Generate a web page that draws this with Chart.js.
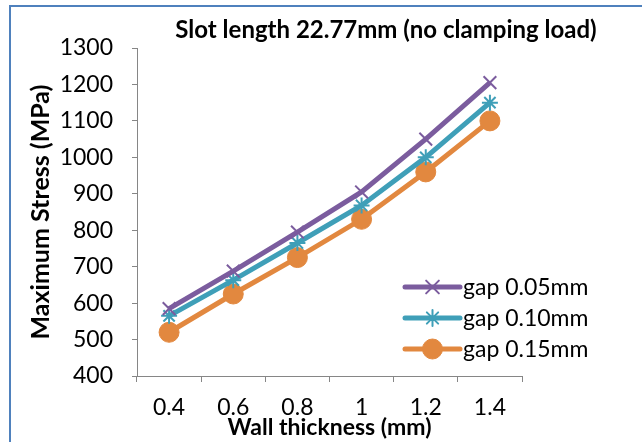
<!DOCTYPE html>
<html>
<head>
<meta charset="utf-8">
<title>Slot length 22.77mm (no clamping load)</title>
<script src="https://cdn.jsdelivr.net/npm/chart.js"></script>
<style>
  body { margin: 0; background: #ffffff; overflow: hidden; }
  #wrap { position: relative; width: 642px; height: 442px; }
  /* blue frame round the chart, left and top edges only show */
  #frame { position: absolute; left: 9px; top: 5px; width: 650px; height: 460px;
           border-left: 2px solid #4f81bd; border-top: 2px solid #4f81bd; }
  canvas { position: absolute; left: 0; top: 0; }
</style>
</head>
<body>
<div id="wrap">
  <div id="frame"></div>
  <canvas id="chart" width="642" height="442"></canvas>
</div>
<script>
  // wall thickness categories (mm)
  const thickness = ['0.4', '0.6', '0.8', '1', '1.2', '1.4'];

  // maximum stress (MPa) for each gap size
  const gap005 = [585, 688, 795, 905, 1050, 1205];
  const gap010 = [565, 663, 765, 868, 1000, 1150];
  const gap015 = [520, 625, 725, 830, 960, 1100];

  const seriesNames = ['gap 0.05mm', 'gap 0.10mm', 'gap 0.15mm'];
  const chartTitle = 'Slot length 22.77mm (no clamping load)';

  const yMin = 400, yMax = 1300, yStep = 100;

  const FONT = 'Lato, "DejaVu Sans", sans-serif';
  const axisGrey = '#868686';

  // title sits off-centre, so it is drawn by hand
  const titlePlugin = {
    id: 'offsetTitle',
    afterDraw(chart) {
      const ctx = chart.ctx;
      ctx.save();
      ctx.font = 'bold 24px ' + FONT;
      ctx.fillStyle = '#000';
      ctx.textAlign = 'center';
      ctx.textBaseline = 'middle';
      ctx.fillText(chartTitle, 386, 30);
      ctx.restore();
    }
  };

  // legend floats over the lower right corner of the plot
  const floatLegend = {
    id: 'floatLegend',
    afterDraw(chart) {
      const ctx = chart.ctx;
      const x0 = 405, y0 = 287, len = 55, gap = 31;
      chart.data.datasets.forEach((ds, i) => {
        const y = y0 + i * gap;
        ctx.save();
        ctx.strokeStyle = ds.borderColor;
        ctx.lineWidth = 5;
        ctx.lineCap = 'round';
        ctx.beginPath();
        ctx.moveTo(x0, y);
        ctx.lineTo(x0 + len, y);
        ctx.stroke();
        ctx.fillStyle = ds.pointBackgroundColor;
        ctx.strokeStyle = ds.pointBorderColor;
        ctx.lineWidth = ds.pointBorderWidth;
        Chart.helpers.drawPoint(ctx, {
          pointStyle: ds.pointStyle,
          radius: ds.pointRadius,
          rotation: 0,
          borderWidth: ds.pointBorderWidth
        }, x0 + len / 2, y);
        ctx.font = '23px ' + FONT;
        ctx.fillStyle = '#000';
        ctx.textAlign = 'left';
        ctx.textBaseline = 'middle';
        ctx.fillText(ds.label, x0 + len + 3, y + 1);
        ctx.restore();
      });
    }
  };

  function series(label, values, color, style, radius, bw) {
    return {
      label: label,
      data: values,
      borderColor: color,
      backgroundColor: color,
      borderWidth: 5,
      tension: 0,
      pointStyle: style,
      pointRadius: radius,
      pointBorderWidth: bw,
      pointBackgroundColor: color,
      pointBorderColor: color
    };
  }

  new Chart(document.getElementById('chart'), {
    type: 'line',
    data: {
      labels: thickness,
      datasets: [
        series(seriesNames[0], gap005, '#7b5c9e', 'crossRot', 9, 2),
        series(seriesNames[1], gap010, '#3f9fb8', 'star', 8, 2),
        series(seriesNames[2], gap015, '#e2883f', 'circle', 10, 1)
      ]
    },
    options: {
      responsive: false,
      animation: false,
      layout: { padding: { top: 48, right: 120, left: 0, bottom: 0 } },
      plugins: {
        legend: { display: false },
        title: { display: false },
        tooltip: { enabled: false }
      },
      scales: {
        x: {
          offset: true,
          grid: { offset: true, drawOnChartArea: false, drawTicks: true, tickLength: 6, color: axisGrey },
          border: { color: axisGrey, width: 1 },
          ticks: { color: '#000', font: { family: FONT, size: 23 }, padding: 12, maxRotation: 0 },
          title: { display: true, text: 'Wall thickness (mm)', color: '#000',
                   font: { family: FONT, size: 23, weight: 'bold' }, padding: { top: 0, bottom: 1 } },
          afterFit(scale) { scale.height = 66; }
        },
        y: {
          min: yMin,
          max: yMax,
          grid: { drawOnChartArea: false, drawTicks: true, tickLength: 5, color: axisGrey },
          border: { color: axisGrey, width: 1 },
          ticks: { stepSize: yStep, color: '#000', font: { family: FONT, size: 23 }, padding: 19,
                   callback: v => String(v) },
          title: { display: true, text: 'Maximum Stress (MPa)', color: '#000',
                   font: { family: FONT, size: 25, weight: 'bold' }, padding: { top: 26, bottom: 0 } },
          afterFit(scale) { scale.width = 137; }
        }
      }
    },
    plugins: [titlePlugin, floatLegend]
  });
</script>
</body>
</html>
